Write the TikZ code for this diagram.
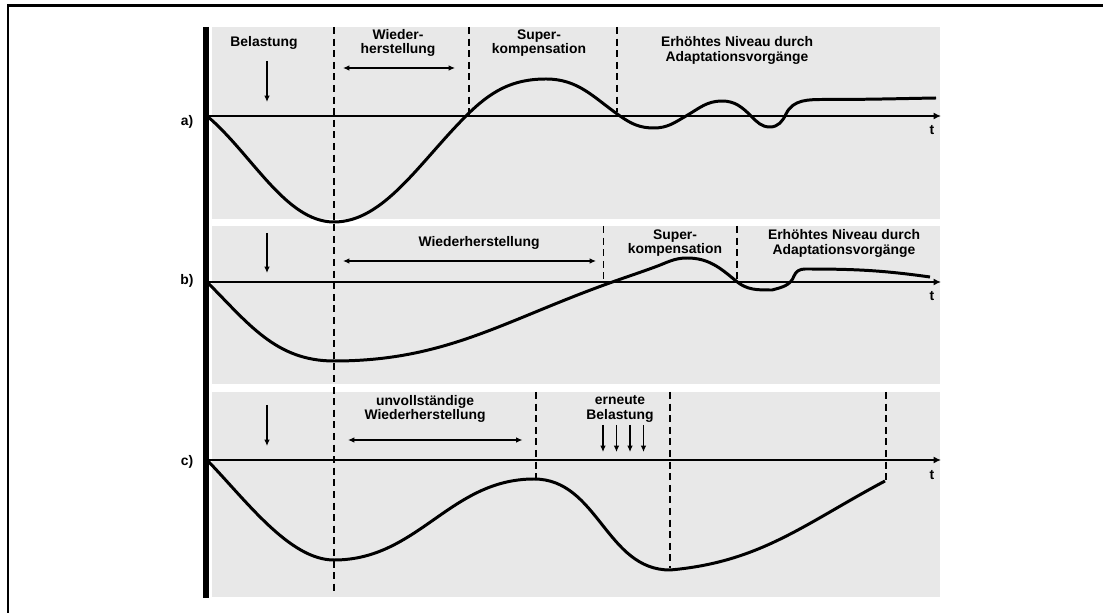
\documentclass[tikz,border=0pt]{standalone}
\usepackage{fontspec}
\setmainfont{Liberation Sans}
\usetikzlibrary{arrows.meta}
\definecolor{cinzaPainel}{RGB}{232,232,232}

\begin{document}
\begin{tikzpicture}
\tikzset{
    >={Latex[length=3.6pt,width=3.2pt]},
    painel/.style={fill=cinzaPainel, draw=none},
    moldura/.style={line width=1.7pt},
    eixo/.style={-{Latex[length=4.2pt,width=4pt]}, line width=1.1pt},
    curva/.style={line width=1.7pt, line join=round},
    tracejada/.style={line width=1.1pt, dash pattern=on 4pt off 2.6pt},
    seta/.style={->, line width=0.8pt},
    setaDupla/.style={<->, line width=0.8pt},
    rotulo/.style={font=\fontsize{7.9}{8.3}\selectfont\bfseries, align=center, inner sep=0pt}
}
\useasboundingbox (0,0) rectangle (22.06,12.24);

% Painéis
\fill[painel] (4.24,11.7) rectangle (18.8,7.86);
\fill[painel] (4.24,7.72) rectangle (18.8,4.56);
\fill[painel] (4.24,4.40) rectangle (18.8,0.30);

% Moldura e barra vertical
\draw[moldura] (0.16,-0.1) -- (0.16,12.12) -- (22.2,12.12);
\draw[line width=3.4pt] (4.12,11.7) -- (4.12,0.28);

% Linhas tracejadas
\draw[tracejada] (6.68,11.7) -- (6.68,0.34);
\draw[tracejada] (9.38,11.7) -- (9.38,9.92);
\draw[tracejada] (12.34,11.7) -- (12.34,10.0);
\draw[tracejada] (12.07,7.72) -- (12.07,6.54);
\draw[tracejada] (14.74,7.72) -- (14.74,6.58);
\draw[tracejada] (10.72,4.40) -- (10.72,2.68);
\draw[tracejada] (13.40,4.40) -- (13.40,0.88);
\draw[tracejada] (17.72,4.40) -- (17.72,2.62);

% Eixos
\coordinate (a0) at (4.14,9.92);  \coordinate (aT) at (18.82,9.92);
\coordinate (b0) at (4.14,6.60);  \coordinate (bT) at (18.82,6.60);
\coordinate (c0) at (4.14,3.04);  \coordinate (cT) at (18.82,3.04);
\draw[eixo] (a0) -- (aT);
\draw[eixo] (b0) -- (bT);
\draw[eixo] (c0) -- (cT);

\node[rotulo] (la) at (3.74,9.80) {a)};
\node[rotulo] (lb) at (3.74,6.62) {b)};
\node[rotulo] (lc) at (3.74,3.00) {c)};
\node[rotulo] (ta) at (18.64,9.64) {t};
\node[rotulo] (tb) at (18.64,6.32) {t};
\node[rotulo] (tc) at (18.64,2.74) {t};

% Curvas
\draw[curva] (a0) to[out=-40,in=180,out looseness=0.9,in looseness=0.75] (6.68,7.80)
    to[out=0,in=-135,out looseness=0.75,in looseness=1.0] (9.32,9.92)
    to[out=45,in=180] (10.92,10.66) to[out=0,in=145] (12.40,9.92)
    to[out=-35,in=180] (13.08,9.68) to[out=0,in=-150] (13.72,9.92)
    to[out=30,in=180] (14.44,10.22) to[out=0,in=135] (15.02,9.92)
    to[out=-45,in=180] (15.40,9.70) to[out=0,in=-115] (15.72,9.96)
    to[out=65,in=180] (16.50,10.25) to[out=0,in=181] (18.72,10.28);
\draw[curva] (b0) to[out=-45,in=180] (6.68,5.02) to[out=0,in=-160] (12.08,6.54)
    to[out=20,in=-160] (13.10,6.90) to[out=20,in=180] (13.74,7.08)
    to[out=0,in=140] (14.72,6.62) to[out=-40,in=180] (15.44,6.44)
    to[out=15,in=-110] (15.88,6.72) to[out=70,in=180] (16.10,6.86)
    to[out=0,in=172] (18.60,6.70);
\draw[curva] (c0) to[out=-46,in=180,out looseness=0.9,in looseness=0.7] (6.68,1.04)
    to[out=0,in=180] (10.68,2.66)
    to[out=0,in=180] (13.40,0.84) to[out=5,in=-152] (17.70,2.62);

% Setas de carga
\coordinate (sa1) at (5.34,11.02); \coordinate (sa2) at (5.34,10.20);
\coordinate (sb1) at (5.34,7.58);  \coordinate (sb2) at (5.34,6.78);
\coordinate (sc1) at (5.34,4.14);  \coordinate (sc2) at (5.34,3.32);
\draw[seta] (sa1) -- (sa2);
\draw[seta] (sb1) -- (sb2);
\draw[seta] (sc1) -- (sc2);

\coordinate (e1) at (12.06,3.74); \coordinate (f1) at (12.06,3.20);
\coordinate (e2) at (12.33,3.74); \coordinate (f2) at (12.33,3.20);
\coordinate (e3) at (12.60,3.74); \coordinate (f3) at (12.60,3.20);
\coordinate (e4) at (12.87,3.74); \coordinate (f4) at (12.87,3.20);
\draw[seta] (e1) -- (f1);
\draw[seta] (e2) -- (f2);
\draw[seta] (e3) -- (f3);
\draw[seta] (e4) -- (f4);

% Setas duplas
\coordinate (da1) at (6.86,10.88); \coordinate (da2) at (9.10,10.88);
\coordinate (db1) at (6.86,7.02);  \coordinate (db2) at (11.92,7.02);
\coordinate (dc1) at (6.96,3.44);  \coordinate (dc2) at (10.45,3.44);
\draw[setaDupla] (da1) -- (da2);
\draw[setaDupla] (db1) -- (db2);
\draw[setaDupla] (dc1) -- (dc2);

% Textos
\node[rotulo] (belA) at (5.28,11.38) {Belastung};
\node[rotulo] (wieA) at (7.96,11.38) {Wieder-\\herstellung};
\node[rotulo] (supA) at (10.78,11.38) {Super-\\kompensation};
\node[rotulo] (erhA) at (14.74,11.23) {Erhöhtes Niveau durch\\Adaptationsvorgänge};

\node[rotulo] (wieB) at (9.58,7.38) {Wiederherstellung};
\node[rotulo] (supB) at (13.50,7.38) {Super-\\kompensation};
\node[rotulo] (erhB) at (16.88,7.37) {Erhöhtes Niveau durch\\Adaptationsvorgänge};

\node[rotulo] (wieC) at (8.50,4.06) {unvollständige\\Wiederherstellung};
\node[rotulo] (belC) at (12.40,4.06) {erneute\\Belastung};
\end{tikzpicture}
\end{document}
